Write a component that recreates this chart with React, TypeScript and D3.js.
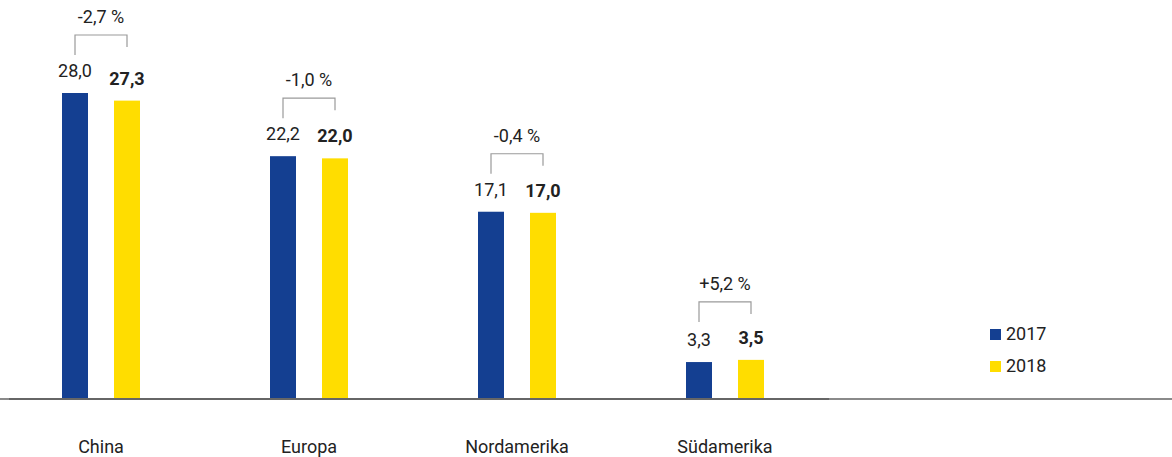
import React from "react";
import * as d3 from "d3";

const categories = ["China", "Europa", "Nordamerika", "Südamerika"];
const series = ["2017", "2018"];
const values2017 = [28.0, 22.2, 17.1, 3.3];
const values2018 = [27.3, 22.0, 17.0, 3.5];
const changes = ["-2,7 %", "-1,0 %", "-0,4 %", "+5,2 %"];
const colors = ["#143f91", "#ffdd00"];

const W = 1172;
const H = 457;
const FONT = "Roboto, 'Open Sans', sans-serif";
const TEXT = "#222";
const FS = 18;

const fmt = (v: number) => v.toFixed(1).replace(".", ",");

export default function App() {
  const baseY = 398;
  const x = d3.scaleBand<string>().domain(categories).range([-3, 829]).padding(0);
  const y = d3.scaleLinear().domain([0, 28]).range([baseY, 93]);
  const sub = d3.scaleBand<string>().domain(series).range([-39, 39]).paddingInner(0.5);
  const seriesVals = [values2017, values2018];

  return (
    <svg
      width={W}
      height={H}
      style={{ position: "absolute", left: 0, top: 0, display: "block", background: "#fff" }}
      fontFamily={FONT}
    >
      {/* axis */}
      <line x1={0} x2={W} y1={baseY + 1} y2={baseY + 1} stroke="#8a8a8a" strokeWidth={2} />
      <line x1={9} x2={829} y1={baseY + 1} y2={baseY + 1} stroke="#666" strokeWidth={2} />

      {categories.map((c, i) => {
        const cx = (x(c) as number) + x.bandwidth() / 2;
        const maxV = Math.max(values2017[i], values2018[i]);
        const bTop = y(maxV) - 58;
        const lx = cx + (sub("2017") as number) + sub.bandwidth() / 2;
        const rx = cx + (sub("2018") as number) + sub.bandwidth() / 2;
        return (
          <g key={c}>
            {series.map((s, j) => {
              const v = seriesVals[j][i];
              const bx = cx + (sub(s) as number);
              return (
                <g key={s}>
                  <rect x={bx} y={y(v)} width={sub.bandwidth()} height={baseY - y(v)} fill={colors[j]} />
                  <text
                    x={bx + sub.bandwidth() / 2}
                    y={y(v) - 16}
                    textAnchor="middle"
                    fontSize={FS}
                    fontWeight={j === 1 ? 700 : 400}
                    fill={TEXT}
                  >
                    {fmt(v)}
                  </text>
                </g>
              );
            })}
            <path
              d={`M${lx},${bTop + 20}V${bTop}H${rx}V${bTop + 12}`}
              fill="none"
              stroke="#9a9a9a"
              strokeWidth={1.2}
            />
            <text x={cx} y={bTop - 12} textAnchor="middle" fontSize={FS} fontWeight={400} fill={TEXT}>
              {changes[i]}
            </text>
            <text x={cx} y={453} textAnchor="middle" fontSize={FS} fontWeight={400} fill={TEXT}>
              {c}
            </text>
          </g>
        );
      })}

      {/* legend */}
      {series.map((s, j) => (
        <g key={s} transform={`translate(990, ${329 + j * 32})`}>
          <rect x={0} y={0} width={11} height={11} fill={colors[j]} />
          <text x={16} y={11} fontSize={FS} fontWeight={400} fill={TEXT}>
            {s}
          </text>
        </g>
      ))}
    </svg>
  );
}
